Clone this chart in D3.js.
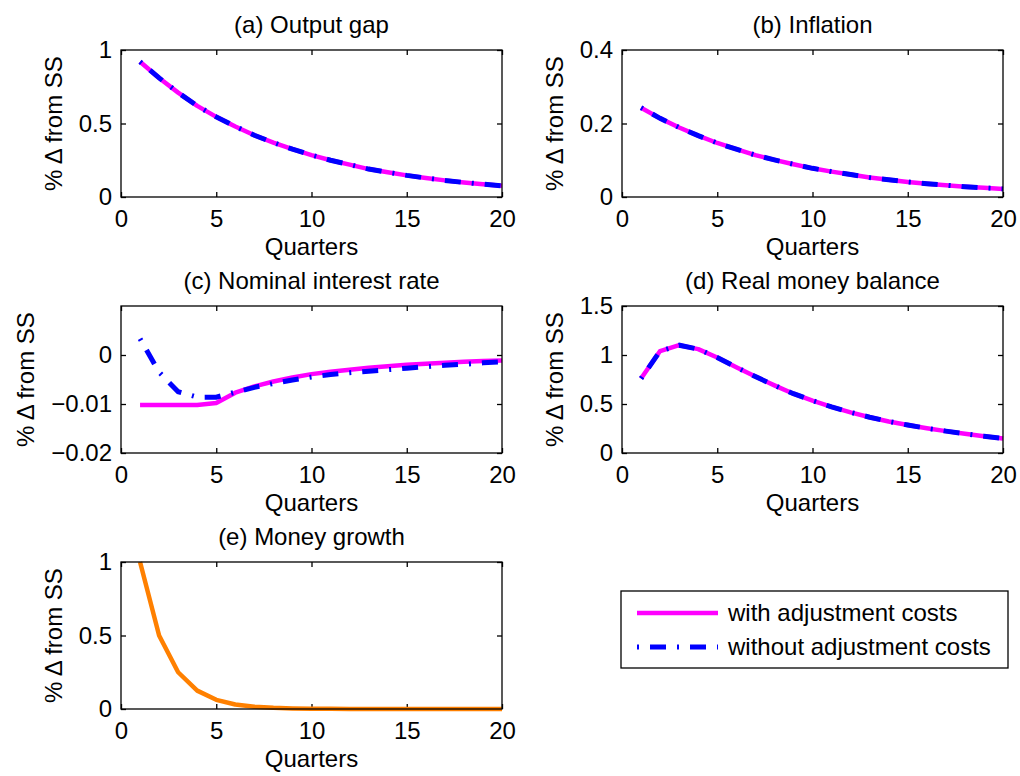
<!DOCTYPE html>
<html>
<head>
<meta charset="utf-8">
<script src="https://cdn.jsdelivr.net/npm/d3@7"></script>
<style>
  html, body { margin: 0; background: #fff; }
  svg { display: block; font-family: "Liberation Sans", Arial, Helvetica, sans-serif; }
</style>
</head>
<body>
<svg id="fig" width="1020" height="776"></svg>
<script>
'use strict';

// quarters after the shock
const quarters = [1, 2, 3, 4, 5, 6, 7, 8, 9, 10, 11, 12, 13, 14, 15, 16, 17, 18, 19, 20];
const xTicks = [0, 5, 10, 15, 20];

// (a) output gap
const gapWith    = [0.92, 0.81, 0.71, 0.62, 0.545, 0.48, 0.42, 0.37, 0.325, 0.285, 0.25, 0.22, 0.19, 0.168, 0.147, 0.129, 0.113, 0.099, 0.087, 0.076];
const gapWithout = [0.92, 0.81, 0.71, 0.62, 0.545, 0.48, 0.42, 0.37, 0.325, 0.285, 0.25, 0.22, 0.19, 0.168, 0.147, 0.129, 0.113, 0.099, 0.087, 0.076];
// (b) inflation
const inflWith    = [0.243, 0.214, 0.189, 0.167, 0.147, 0.13, 0.114, 0.101, 0.089, 0.078, 0.069, 0.061, 0.053, 0.047, 0.041, 0.036, 0.032, 0.028, 0.025, 0.022];
const inflWithout = [0.243, 0.214, 0.189, 0.167, 0.147, 0.13, 0.114, 0.101, 0.089, 0.078, 0.069, 0.061, 0.053, 0.047, 0.041, 0.036, 0.032, 0.028, 0.025, 0.022];
// (c) nominal interest rate
const rateWith    = [-0.0102, -0.0102, -0.0102, -0.0102, -0.0098, -0.0077, -0.0064, -0.0054, -0.0046, -0.0039, -0.0034, -0.003, -0.0026, -0.0023, -0.002, -0.0018, -0.0016, -0.0014, -0.0012, -0.0011];
const rateWithout = [0.0033, -0.0035, -0.0075, -0.0086, -0.0086, -0.0076, -0.0066, -0.0058, -0.0051, -0.0045, -0.004, -0.0036, -0.0033, -0.003, -0.0027, -0.0024, -0.0021, -0.0019, -0.0016, -0.0014];
// (d) real money balance
const moneyWith    = [0.76, 1.04, 1.10, 1.06, 0.975, 0.875, 0.78, 0.69, 0.605, 0.535, 0.47, 0.415, 0.365, 0.322, 0.285, 0.252, 0.223, 0.196, 0.172, 0.148];
const moneyWithout = [0.76, 1.04, 1.10, 1.06, 0.975, 0.875, 0.78, 0.69, 0.605, 0.535, 0.47, 0.415, 0.365, 0.322, 0.285, 0.252, 0.223, 0.196, 0.172, 0.148];
// (e) money growth
const growth = [1, 0.5, 0.25, 0.125, 0.0625, 0.031, 0.016, 0.008, 0.004, 0.002, 0.001, 0.0005, 0.0002, 0.0001, 0, 0, 0, 0, 0, 0];

const legendLabels = ['with adjustment costs', 'without adjustment costs'];

const FS = 24;
const MAGENTA = '#ff00ff', BLUE = '#0000ff', ORANGE = '#ff8000';
const DASHDOT = '2,11,16,11';

const svg = d3.select('#fig');
const W = 381, H = 147;

const panels = [
  { title: '(a) Output gap', left: 121, top: 50, yDom: [0, 1], yTicks: [0, 0.5, 1], series: [gapWith, gapWithout] },
  { title: '(b) Inflation', left: 622, top: 50, yDom: [0, 0.4], yTicks: [0, 0.2, 0.4], series: [inflWith, inflWithout] },
  { title: '(c) Nominal interest rate', left: 121, top: 306, yDom: [-0.02, 0.01], yTicks: [-0.02, -0.01, 0], series: [rateWith, rateWithout] },
  { title: '(d) Real money balance', left: 622, top: 306, yDom: [0, 1.5], yTicks: [0, 0.5, 1, 1.5], series: [moneyWith, moneyWithout] },
  { title: '(e) Money growth', left: 121, top: 562, yDom: [0, 1], yTicks: [0, 0.5, 1], series: [growth], single: true }
];

const fmt = d3.format('~g');

panels.forEach(p => {
  const g = svg.append('g').attr('transform', `translate(${p.left},${p.top})`);
  const x = d3.scaleLinear().domain([0, 20]).range([0, W]);
  const y = d3.scaleLinear().domain(p.yDom).range([H, 0]);

  const styleAxis = a => {
    a.select('.domain').remove();
    a.selectAll('.tick line').attr('stroke', '#000').attr('stroke-width', 1.3);
    a.selectAll('.tick text').attr('fill', '#000').style('font-size', FS + 'px');
  };

  g.append('g').attr('transform', `translate(0,${H})`)
    .call(d3.axisBottom(x).tickValues(xTicks).tickSizeInner(-5).tickSizeOuter(0).tickPadding(13).tickFormat(fmt))
    .call(styleAxis);
  g.append('g')
    .call(d3.axisTop(x).tickValues(xTicks).tickSizeInner(-5).tickSizeOuter(0).tickFormat(''))
    .call(styleAxis);
  const yl = g.append('g')
    .call(d3.axisLeft(y).tickValues(p.yTicks).tickSizeInner(-5).tickSizeOuter(0).tickPadding(9).tickFormat(fmt))
    .call(styleAxis);
  g.append('g').attr('transform', `translate(${W},0)`)
    .call(d3.axisRight(y).tickValues(p.yTicks).tickSizeInner(-5).tickSizeOuter(0).tickFormat(''))
    .call(styleAxis);

  const line = d3.line().x((d, i) => x(quarters[i])).y(d => y(d));
  if (p.single) {
    g.append('path').datum(p.series[0]).attr('d', line)
      .attr('fill', 'none').attr('stroke', ORANGE).attr('stroke-width', 4.5).attr('stroke-linejoin', 'round');
  } else {
    g.append('path').datum(p.series[0]).attr('d', line)
      .attr('fill', 'none').attr('stroke', MAGENTA).attr('stroke-width', 4.5).attr('stroke-linejoin', 'round');
    g.append('path').datum(p.series[1]).attr('d', line)
      .attr('fill', 'none').attr('stroke', BLUE).attr('stroke-width', 5).attr('stroke-dasharray', DASHDOT);
  }

  g.append('rect').attr('width', W).attr('height', H)
    .attr('fill', 'none').attr('stroke', '#000').attr('stroke-width', 1.3);

  g.append('text').attr('x', W / 2).attr('y', -17).attr('text-anchor', 'middle')
    .style('font-size', FS + 'px').text(p.title);
  g.append('text').attr('x', W / 2).attr('y', H + 58).attr('text-anchor', 'middle')
    .style('font-size', FS + 'px').text('Quarters');

  // ylabel sits left of the widest tick label
  let minX = 0;
  yl.selectAll('.tick text').each(function() {
    const b = this.getBBox();
    const t = d3.select(this.parentNode).attr('transform');
    const tx = +t.match(/translate\(([^,]+),/)[1];
    minX = Math.min(minX, tx + b.x);
  });
  g.append('text').attr('transform', `translate(${minX - 17},${H / 2}) rotate(-90)`)
    .attr('text-anchor', 'middle').style('font-size', FS + 'px').text('% \u0394 from SS');
});

// legend
const lg = svg.append('g').attr('transform', 'translate(621,591)');
lg.append('rect').attr('width', 387).attr('height', 77)
  .attr('fill', '#fff').attr('stroke', '#000').attr('stroke-width', 1.3);
const legendStyles = [
  { stroke: MAGENTA, width: 4.5, dash: null },
  { stroke: BLUE, width: 5, dash: DASHDOT }
];
legendLabels.forEach((lab, i) => {
  const yy = 22 + i * 34;
  lg.append('line').attr('x1', 16).attr('x2', 97).attr('y1', yy).attr('y2', yy)
    .attr('stroke', legendStyles[i].stroke).attr('stroke-width', legendStyles[i].width)
    .attr('stroke-dasharray', legendStyles[i].dash);
  lg.append('text').attr('x', 107).attr('y', yy).attr('dy', '0.35em')
    .style('font-size', FS + 'px').text(lab);
});
</script>
</body>
</html>
